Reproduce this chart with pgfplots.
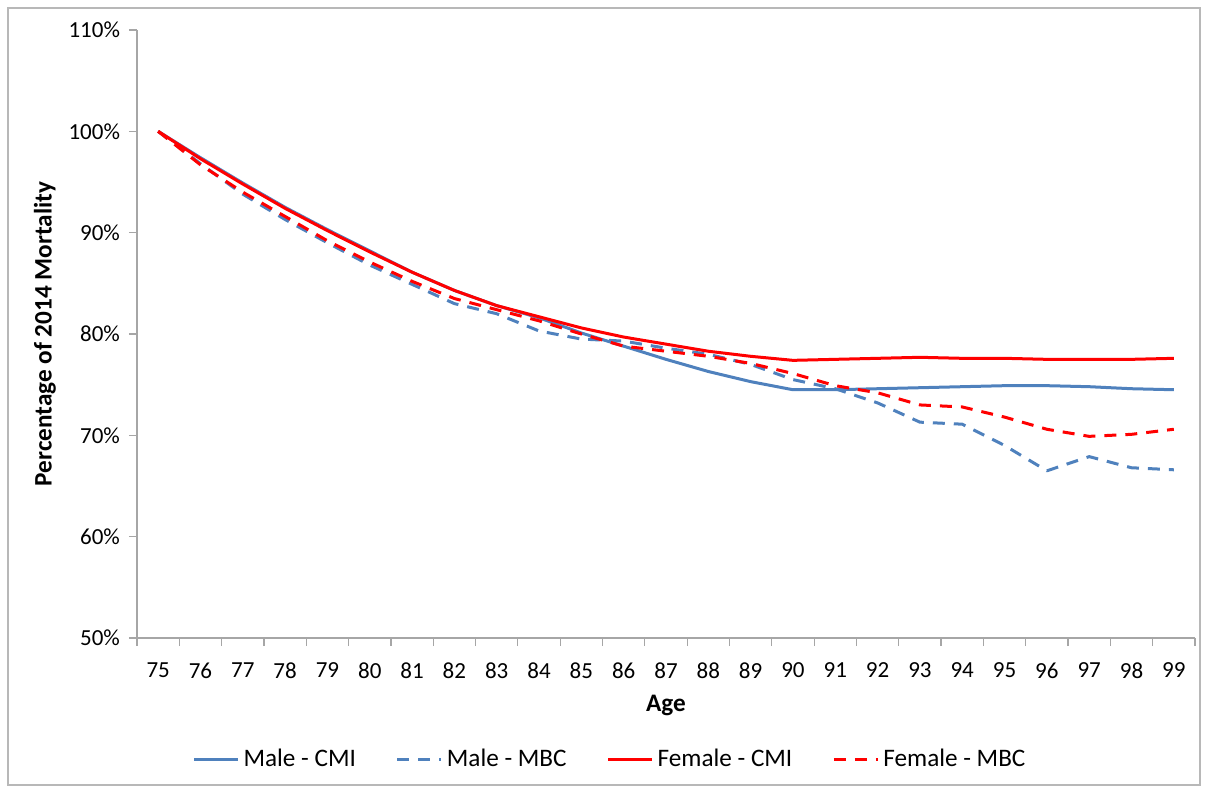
\documentclass[border=0pt]{standalone}
\usepackage{pgfplots}
\pgfplotsset{compat=1.18}
\usepackage{fontspec}
\setmainfont{Carlito}
\definecolor{mblue}{HTML}{4F81BD}
\definecolor{mred}{HTML}{FF0000}
\definecolor{axgray}{HTML}{A6A6A6}
\begin{document}
\begin{tikzpicture}
\useasboundingbox (-68.5pt,-74.5pt) rectangle (534pt,319pt);
\draw[axgray!80,line width=0.6pt] (-64.5pt,-73.5pt) rectangle (531.5pt,315pt);
\begin{axis}[
  scale only axis,
  width=529pt, height=304pt,
  xmin=-0.5, xmax=24.5,
  ymin=50, ymax=110,
  ytick={50,60,...,110},
  yticklabel={\pgfmathprintnumber{\tick}\%},
  xtick={0,...,24},
  xticklabels={75,76,77,78,79,80,81,82,83,84,85,86,87,88,89,90,91,92,93,94,95,96,97,98,99},
  minor xtick={-0.5,0.5,...,24.5},
  major x tick style={draw=none},
  minor tick length=4pt,
  major tick length=4pt,
  tick align=outside,
  tick style={axgray, line width=0.6pt},
  axis x line*=bottom,
  axis y line*=left,
  axis line style={axgray, line width=0.6pt, -},
  /pgf/number format/assume math mode=true,
  tick label style={font=\fontsize{11.5}{13}\selectfont, black},
  xticklabel style={yshift=-5pt},
  yticklabel style={xshift=-1pt},
  xlabel={\textbf{Age}},
  ylabel={\textbf{Percentage of 2014 Mortality}},
  label style={font=\fontsize{12.6}{14}\selectfont},
  xlabel style={at={(axis description cs:0.5,0)}, anchor=center, yshift=-33.5pt},
  ylabel style={at={(axis description cs:-0.087,0.5)}, anchor=center},
  legend style={at={(0.448,-0.2)}, anchor=center, draw=none, legend columns=4,
    font=\fontsize{12.6}{14}\selectfont,
    /tikz/every even column/.append style={column sep=18pt}},
  legend cell align=left,
  legend image code/.code={\draw[#1] (0pt,0pt) -- (22pt,0pt);},
  every axis plot/.append style={line width=1.5pt, line join=round},
]
\addplot[mblue] coordinates {
(0,100) (1,97.4) (2,94.9) (3,92.5) (4,90.3) (5,88.2) (6,86.1) (7,84.3) (8,82.8) (9,81.6)
(10,80.1) (11,78.8) (12,77.5) (13,76.3) (14,75.3) (15,74.5) (16,74.5) (17,74.6) (18,74.7)
(19,74.8) (20,74.9) (21,74.9) (22,74.8) (23,74.6) (24,74.5)};
\addlegendentry{Male - CMI}
\addplot[mblue, dash pattern=on 6pt off 4.5pt] coordinates {
(0,100) (1,96.8) (2,93.8) (3,91.3) (4,89.0) (5,86.8) (6,84.9) (7,83.0) (8,82.0) (9,80.3)
(10,79.5) (11,79.3) (12,78.6) (13,78.0) (14,77.0) (15,75.5) (16,74.6) (17,73.2) (18,71.3)
(19,71.1) (20,69.0) (21,66.5) (22,67.9) (23,66.8) (24,66.6)};
\addlegendentry{Male - MBC}
\addplot[mred] coordinates {
(0,100) (1,97.3) (2,94.8) (3,92.4) (4,90.2) (5,88.1) (6,86.1) (7,84.3) (8,82.8) (9,81.7)
(10,80.6) (11,79.7) (12,79.0) (13,78.3) (14,77.8) (15,77.4) (16,77.5) (17,77.6) (18,77.7)
(19,77.6) (20,77.6) (21,77.5) (22,77.5) (23,77.5) (24,77.6)};
\addlegendentry{Female - CMI}
\addplot[mred, dash pattern=on 6pt off 4.5pt] coordinates {
(0,100) (1,96.7) (2,94.0) (3,91.6) (4,89.2) (5,87.1) (6,85.2) (7,83.5) (8,82.4) (9,81.3)
(10,80.0) (11,78.8) (12,78.3) (13,77.8) (14,77.1) (15,76.1) (16,74.9) (17,74.2) (18,73.0)
(19,72.8) (20,71.8) (21,70.6) (22,69.9) (23,70.1) (24,70.6)};
\addlegendentry{Female - MBC}
\end{axis}
\end{tikzpicture}
\end{document}
